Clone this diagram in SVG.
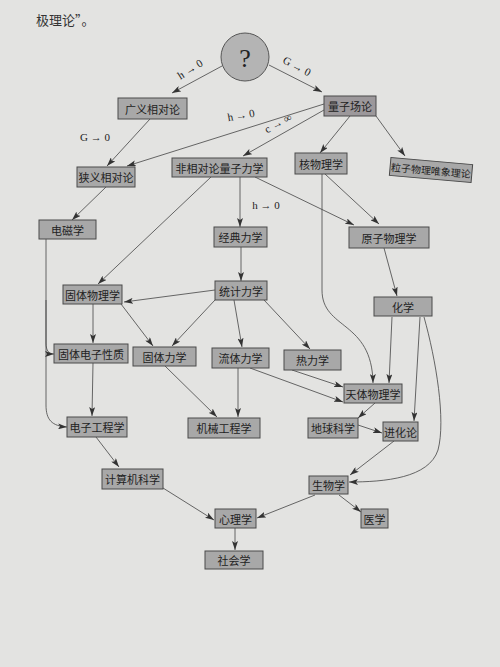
<svg xmlns="http://www.w3.org/2000/svg" width="500" height="667" viewBox="0 0 500 667">
<defs>
<style>
.bg{fill:#e3e3e1}
.box{fill:#a8a8a8;stroke:#4a4a4a;stroke-width:1}
.dark{fill:#9c989b}
.t{font-family:"Noto Sans CJK SC","Noto Sans",sans-serif;font-size:11px;fill:#222;text-anchor:middle;dominant-baseline:central}
.lab{font-family:"Liberation Serif",serif;font-size:11px;fill:#222;text-anchor:middle;dominant-baseline:central}
.e{fill:none;stroke:#444;stroke-width:0.8;marker-end:url(#arr)}
</style>
<marker id="arr" viewBox="0 0 9 6" refX="9" refY="3" markerWidth="9" markerHeight="6" markerUnits="userSpaceOnUse" orient="auto">
<path d="M0,0 L9,3 L0,6 L2,3 z" fill="#333"/>
</marker>
</defs>
<rect class="bg" x="0" y="0" width="500" height="667"/>
<text x="36" y="19" style="font-family:'Noto Sans CJK SC',sans-serif;font-size:13px;fill:#333;dominant-baseline:central">极理论”。</text>

<g id="connectors">
<path class="e" d="M222,66 L172,93"/>
<path class="e" d="M269,65 L322,92"/>
<path class="e" d="M150,119 L107,166"/>
<path class="e" d="M324,104 L127,166"/>
<path class="e" d="M324,110 L243,156"/>
<path class="e" d="M350,116 L320,153"/>
<path class="e" d="M376,116 L405,156"/>
<path class="e" d="M106,187 L72,220"/>
<path class="e" d="M46,239 L46,343 C46,351 49,354 54,354"/>
<path class="e" d="M46,300 L46,405 C46,420 52,426 67,427"/>
<path class="e" d="M211,177 L98,284"/>
<path class="e" d="M240,177 L240,227"/>
<path class="e" d="M255,177 L354,225"/>
<path class="e" d="M325,174 L379,224"/>
<path class="e" d="M322,174 L322,290 C322,330 372,320 373,383"/>
<path class="e" d="M384,248 L397,296"/>
<path class="e" d="M241,247 L241,281"/>
<path class="e" d="M215,290 L124,302"/>
<path class="e" d="M215,300 L172,346"/>
<path class="e" d="M234,300 L242,347"/>
<path class="e" d="M264,300 L310,349"/>
<path class="e" d="M93,304 L93,343"/>
<path class="e" d="M121,304 L153,346"/>
<path class="e" d="M93,363 L92,416"/>
<path class="e" d="M165,366 L217,417"/>
<path class="e" d="M238,368 L238,417"/>
<path class="e" d="M250,368 L343,402"/>
<path class="e" d="M292,370 L343,387"/>
<path class="e" d="M392,317 L389,383"/>
<path class="e" d="M420,317 L414,421"/>
<path class="e" d="M424,317 C436,360 446,420 438,450 C429,478 385,482 349,482"/>
<path class="e" d="M375,403 L358,418"/>
<path class="e" d="M358,425 L382,433"/>
<path class="e" d="M394,441 L350,475"/>
<path class="e" d="M96,437 L119,467"/>
<path class="e" d="M163,488 L214,520"/>
<path class="e" d="M315,495 L257,518"/>
<path class="e" d="M339,495 L361,512"/>
<path class="e" d="M235,528 L235,550"/>
<text class="lab" transform="translate(190,69) rotate(-32)">h → 0</text>
<text class="lab" transform="translate(297,66) rotate(28)">G → 0</text>
<text class="lab" x="95" y="137">G → 0</text>
<text class="lab" transform="translate(241,115) rotate(-10)">h → 0</text>
<text class="lab" transform="translate(278,123) rotate(-28)">c → ∞</text>
<text class="lab" x="266" y="205">h → 0</text>
</g>

<g id="n_q"><circle cx="245" cy="57" r="24" fill="#b4b4b4" stroke="#555" stroke-width="1"/><text x="245" y="58" style="font-family:'Liberation Serif',serif;font-size:26px;fill:#222;text-anchor:middle;dominant-baseline:central">?</text></g>
<g id="n_gr"><rect class="box" x="118" y="98" width="69" height="21"/><text class="t" x="152.5" y="108.5">广义相对论</text></g>
<g id="n_qft"><rect class="box dark" x="324" y="96" width="52" height="20"/><text class="t" x="350" y="106">量子场论</text></g>
<g id="n_sr"><rect class="box" x="77" y="167" width="58" height="20"/><text class="t" x="106" y="177">狭义相对论</text></g>
<g id="n_em"><rect class="box" x="39" y="220" width="57" height="19"/><text class="t" x="67.5" y="229.5">电磁学</text></g>
<g id="n_nrqm"><rect class="box" x="172" y="158" width="95" height="19"/><text class="t" x="219.5" y="167.5">非相对论量子力学</text></g>
<g id="n_cm"><rect class="box" x="214" y="227" width="53" height="20"/><text class="t" x="240.5" y="237">经典力学</text></g>
<g id="n_np"><rect class="box" x="295" y="153" width="52" height="21"/><text class="t" x="321" y="163.5">核物理学</text></g>
<g id="n_pp" transform="rotate(5 431 170)"><rect class="box" x="390" y="161" width="82" height="18"/><text class="t" x="431" y="170" style="font-size:10px">粒子物理唯象理论</text></g>
<g id="n_ap"><rect class="box" x="349" y="227" width="80" height="21"/><text class="t" x="389" y="237.5">原子物理学</text></g>
<g id="n_ssp"><rect class="box" x="63" y="285" width="59" height="19"/><text class="t" x="92.5" y="294.5">固体物理学</text></g>
<g id="n_sm"><rect class="box" x="215" y="281" width="52" height="19"/><text class="t" x="241" y="290.5">统计力学</text></g>
<g id="n_ch"><rect class="box" x="374" y="297" width="58" height="19"/><text class="t" x="403" y="306.5">化学</text></g>
<g id="n_sse"><rect class="box" x="54" y="344" width="74" height="19"/><text class="t" x="91" y="353.5">固体电子性质</text></g>
<g id="n_solm"><rect class="box" x="133" y="347" width="63" height="19"/><text class="t" x="164.5" y="356.5">固体力学</text></g>
<g id="n_fm"><rect class="box" x="212" y="348" width="57" height="20"/><text class="t" x="240.5" y="358">流体力学</text></g>
<g id="n_td"><rect class="box" x="284" y="350" width="57" height="20"/><text class="t" x="312.5" y="360">热力学</text></g>
<g id="n_astro"><rect class="box" x="344" y="384" width="58" height="19"/><text class="t" x="373" y="393.5">天体物理学</text></g>
<g id="n_ee"><rect class="box" x="67" y="417" width="60" height="20"/><text class="t" x="97" y="427">电子工程学</text></g>
<g id="n_me"><rect class="box" x="188" y="418" width="72" height="20"/><text class="t" x="224" y="428">机械工程学</text></g>
<g id="n_geo"><rect class="box" x="308" y="418" width="50" height="20"/><text class="t" x="333" y="428">地球科学</text></g>
<g id="n_evo"><rect class="box" x="383" y="422" width="35" height="19"/><text class="t" x="400.5" y="431.5">进化论</text></g>
<g id="n_cs"><rect class="box" x="102" y="469" width="61" height="20"/><text class="t" x="132.5" y="479">计算机科学</text></g>
<g id="n_bio"><rect class="box" x="309" y="476" width="39" height="18"/><text class="t" x="328.5" y="485">生物学</text></g>
<g id="n_psy"><rect class="box" x="215" y="509" width="41" height="19"/><text class="t" x="235.5" y="518.5">心理学</text></g>
<g id="n_med"><rect class="box" x="361" y="509" width="27" height="19"/><text class="t" x="374.5" y="518.5">医学</text></g>
<g id="n_soc"><rect class="box" x="205" y="551" width="58" height="18"/><text class="t" x="234" y="560">社会学</text></g>
</svg>
